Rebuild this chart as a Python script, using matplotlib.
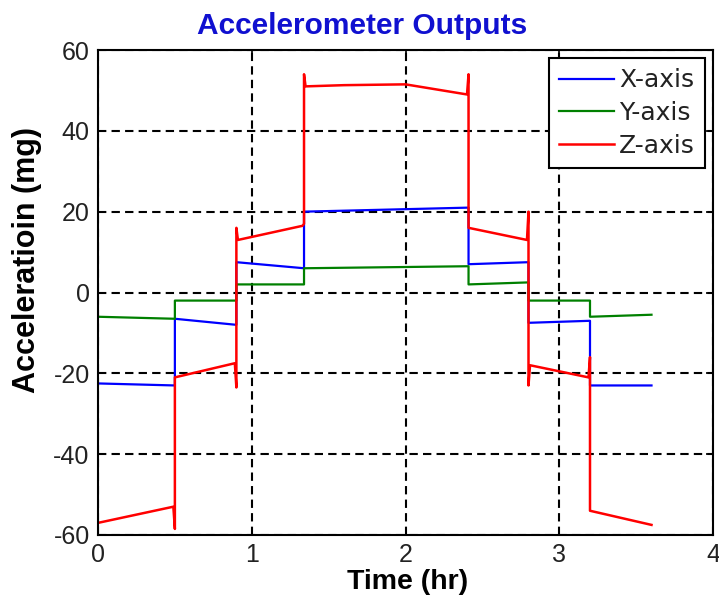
import matplotlib
matplotlib.use('Agg')
import matplotlib.pyplot as plt

plt.rcParams['font.family'] = ['Liberation Sans', 'DejaVu Sans']
plt.rcParams['axes.unicode_minus'] = False

W, H = 719, 603

# 各轴输出的折线顶点
x_time = [0, 0.5, 0.5, 0.9, 0.9, 1.34, 1.34, 2.41, 2.41, 2.8, 2.8, 3.2, 3.2, 3.6]
x_acc = [-22.5, -23, -6.5, -8, 7.5, 6, 20, 21, 7, 7.5, -7.5, -7, -23, -23]

y_time = [0, 0.5, 0.5, 0.9, 0.9, 1.34, 1.34, 2.41, 2.41, 2.8, 2.8, 3.2, 3.2, 3.6]
y_acc = [-6, -6.5, -2, -2, 2, 2, 6, 6.5, 2, 2.5, -2, -2, -6, -5.5]

z_time = [0, 0.49, 0.5, 0.5, 0.89, 0.9, 0.9, 0.91, 1.33, 1.34, 1.34, 1.35,
          1.6, 2.0, 2.4, 2.41, 2.41, 2.79, 2.8, 2.8, 2.81, 3.19, 3.2, 3.2, 3.6]
z_acc = [-57, -53, -58.5, -21, -17.5, -23.5, 16, 13, 16.5, 17, 54, 51,
         51.3, 51.5, 49, 54, 16, 13, 20, -23, -18, -21, -16, -54, -57.5]

x_ticks = [0, 1, 2, 3, 4]
y_ticks = [-60, -40, -20, 0, 20, 40, 60]

fig = plt.figure(figsize=(W / 100, H / 100), dpi=100)
ax = fig.add_axes([98 / W, 1 - 535 / H, 615 / W, 485 / H])

ax.plot(x_time, x_acc, color='#0000ff', lw=1.6, label='X-axis')
ax.plot(y_time, y_acc, color='#008000', lw=1.6, label='Y-axis')
ax.plot(z_time, z_acc, color='#ff0000', lw=1.8, label='Z-axis')

ax.set_xlim(0, 4)
ax.set_ylim(-60, 60)
ax.set_xticks(x_ticks)
ax.set_yticks(y_ticks)
ax.tick_params(direction='in', labelsize=18, length=5, width=1.2,
               top=True, right=True, labelcolor='#222222')
ax.tick_params(axis='x', pad=6)
ax.tick_params(axis='y', pad=6)
ax.grid(True, color='black', linestyle=(0, (4, 2.5)), linewidth=1.5)
for s in ax.spines.values():
    s.set_linewidth(1.5)

# 标题和坐标轴标签
fig.text(362 / W, 1 - 34 / H, 'Accelerometer Outputs', color='#1010d0',
         fontsize=21.5, fontweight='bold', ha='center', va='baseline')
fig.text(408 / W, 1 - 589 / H, 'Time (hr)', fontsize=20.5,
         fontweight='bold', ha='center', va='baseline')
fig.text(27 / W, 1 - 260 / H, 'Acceleratioin (mg)', fontsize=22,
         fontweight='bold', ha='center', va='center', rotation=90)

leg = ax.legend(loc='upper right', prop={'family': 'DejaVu Sans', 'size': 18},
                fancybox=False, framealpha=1, edgecolor='black',
                handlelength=2.2, handletextpad=0.2, borderpad=0.4,
                borderaxespad=0.33, labelspacing=0.35)
leg.get_frame().set_linewidth(1.5)
for t in leg.get_texts():
    t.set_color('#222222')

fig.savefig('out.png', dpi=100, facecolor='white')
